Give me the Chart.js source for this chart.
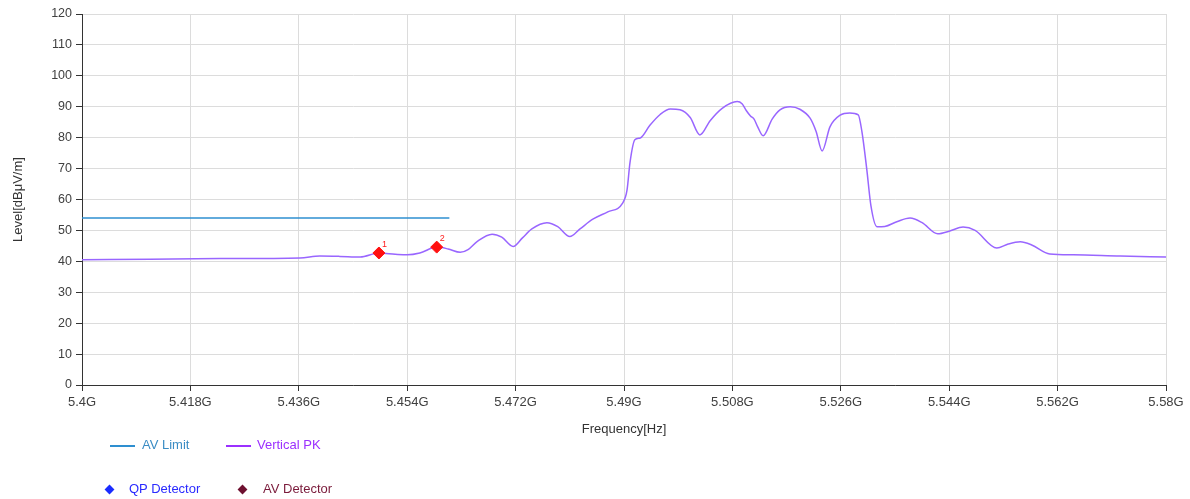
<!DOCTYPE html>
<html>
<head>
<meta charset="utf-8">
<script src="https://cdn.jsdelivr.net/npm/chart.js@4.4.1/dist/chart.umd.min.js"></script>
<style>
  html, body { margin: 0; padding: 0; background: #fff; }
  body { width: 1190px; height: 499px; position: relative; overflow: hidden; font-family: "Liberation Sans", Arial, sans-serif; }
  #wrap { position: absolute; left: 0; top: 0; width: 1190px; height: 440px; }
  .lg { position: absolute; font-size: 13px; white-space: nowrap; line-height: 16px; }
  .ln { position: absolute; height: 2px; }
  .dm { position: absolute; width: 7px; height: 7px; transform: rotate(45deg); }
</style>
</head>
<body>
<div id="wrap"><canvas id="c"></canvas></div>

<div class="ln" style="left:110px; top:445px; width:25px; background:#2e8fd0;"></div>
<div class="lg" style="left:142px; top:437px; color:#3a8cc4;">AV Limit</div>
<div class="ln" style="left:226px; top:445px; width:25px; background:#9b30ff;"></div>
<div class="lg" style="left:257px; top:437px; color:#9b30ff;">Vertical PK</div>

<div class="dm" style="left:106px; top:486px; background:#1a2cff;"></div>
<div class="lg" style="left:129px; top:481px; color:#2a2aff;">QP Detector</div>
<div class="dm" style="left:239px; top:486px; background:#6e1030;"></div>
<div class="lg" style="left:263px; top:481px; color:#7a1a3a;">AV Detector</div>

<script>
// Frequencies in MHz, levels in dBµV/m
const traceFreq = [5400, 5411.3, 5422.9, 5436.2, 5439.5, 5442.8, 5446.2, 5449.3, 5452.0, 5454.0,
  5456.1, 5458.9, 5460.8, 5462.8, 5464.1, 5465.6, 5468.1, 5469.7, 5471.6, 5473.1,
  5474.7, 5477.2, 5479.0, 5481.0, 5482.7, 5484.9, 5487.3, 5489.8, 5490.5, 5491.0,
  5491.8, 5492.7, 5494.3, 5496.0, 5497.7, 5499.3, 5501.0, 5502.6, 5504.3, 5506.3,
  5508.8, 5509.6, 5510.3, 5511.0, 5511.6, 5512.2, 5513.1, 5514.6, 5515.9, 5517.6, 5519.2,
  5520.9, 5521.9, 5522.9, 5524.2, 5525.9, 5527.5, 5528.9, 5529.5, 5530.3, 5531.0,
  5532.0, 5533.3, 5535.3, 5537.5, 5539.5, 5542.1, 5544.1, 5546.3, 5548.3, 5551.9,
  5553.8, 5555.8, 5557.7, 5560.7, 5564.6, 5572.4, 5580];
const traceLevel = [40.5, 40.7, 40.9, 41.1, 41.7, 41.6, 41.4, 42.7, 42.3, 42.1,
  42.7, 44.6, 44.0, 42.9, 43.8, 46.4, 48.8, 47.8, 44.8, 47.5,
  50.5, 52.5, 51.2, 48.0, 50.5, 53.7, 56.0, 58.9, 63.0, 72.0,
  79.3, 79.9, 84.0, 87.5, 89.3, 89.0, 86.5, 80.9, 85.5, 89.5,
  91.7, 91.0, 88.8, 87.0, 86.0, 83.5, 80.6, 86.0, 89.0, 90.0, 89.2,
  86.3, 82.0, 75.7, 83.5, 87.3, 88.0, 87.4, 82.0, 70.0, 58.0,
  51.2, 51.3, 52.8, 54.0, 52.5, 48.9, 49.8, 51.1, 50.0, 44.3,
  45.6, 46.3, 45.3, 42.4, 42.1, 41.7, 41.4];
const limitFreq = [5400, 5461];
const limitLevel = [54, 54];
const markerFreq = [5449.3, 5458.9];
const markerLevel = [42.7, 44.6];
const markerLabels = ['1', '2'];
const xMin = 5400, xMax = 5580, xStep = 18;
const yMin = 0, yMax = 120, yStep = 10;

const zip = (xs, ys) => xs.map((x, i) => ({ x: x, y: ys[i] }));

const markerLabelPlugin = {
  id: 'markerLabels',
  afterDatasetsDraw(chart) {
    const meta = chart.getDatasetMeta(0);
    const ctx = chart.ctx;
    ctx.save();
    ctx.fillStyle = '#ff2020';
    ctx.font = '9px "Liberation Sans", Arial, sans-serif';
    ctx.textAlign = 'left';
    ctx.textBaseline = 'alphabetic';
    meta.data.forEach((pt, i) => {
      ctx.fillText(markerLabels[i], pt.x + 3, pt.y - 6);
    });
    ctx.restore();
  }
};

new Chart(document.getElementById('c'), {
  type: 'scatter',
  data: {
    datasets: [
      {
        label: 'Markers',
        data: zip(markerFreq, markerLevel),
        pointStyle: 'rectRot',
        pointRadius: 6,
        backgroundColor: '#ff1010',
        borderColor: '#ff1010',
        showLine: false,
        order: 0
      },
      {
        label: 'AV Limit',
        data: zip(limitFreq, limitLevel),
        showLine: true,
        borderColor: '#2e8fd0',
        borderWidth: 1.5,
        pointRadius: 0,
        order: 2
      },
      {
        label: 'Vertical PK',
        data: zip(traceFreq, traceLevel),
        showLine: true,
        borderColor: '#9966ff',
        borderWidth: 1.5,
        pointRadius: 0,
        cubicInterpolationMode: 'monotone',
        order: 1
      }
    ]
  },
  options: {
    responsive: true,
    maintainAspectRatio: false,
    animation: false,
    layout: { padding: { left: 0, top: 14, right: 24, bottom: 0 } },
    plugins: { legend: { display: false }, tooltip: { enabled: false } },
    scales: {
      x: {
        type: 'linear',
        min: xMin, max: xMax,
        afterFit: s => { s.height = 55; },
        ticks: {
          stepSize: xStep,
          color: '#404040',
          font: { family: '"Liberation Sans", Arial, sans-serif', size: 13 },
          padding: 4,
          maxRotation: 0,
          callback: v => (v / 1000) + 'G'
        },
        grid: { color: '#dcdcdc', tickColor: '#333', tickLength: 6, lineWidth: 1 },
        border: { color: '#333', width: 1 },
        title: {
          display: true,
          text: 'Frequency[Hz]',
          color: '#333',
          font: { family: '"Liberation Sans", Arial, sans-serif', size: 13 },
          padding: { top: 0, bottom: 3 }
        }
      },
      y: {
        min: yMin, max: yMax,
        afterFit: s => { s.width = 82; },
        ticks: {
          stepSize: yStep,
          color: '#404040',
          font: { family: '"Liberation Sans", Arial, sans-serif', size: 12.5 },
          padding: 4
        },
        grid: { color: '#dcdcdc', tickColor: '#333', tickLength: 6, lineWidth: 1 },
        border: { color: '#333', width: 1 },
        title: {
          display: true,
          text: 'Level[dBμV/m]',
          color: '#333',
          font: { family: '"Liberation Sans", Arial, sans-serif', size: 13 },
          padding: { top: 11, bottom: 0 }
        }
      }
    }
  },
  plugins: [markerLabelPlugin]
});
</script>
</body>
</html>
